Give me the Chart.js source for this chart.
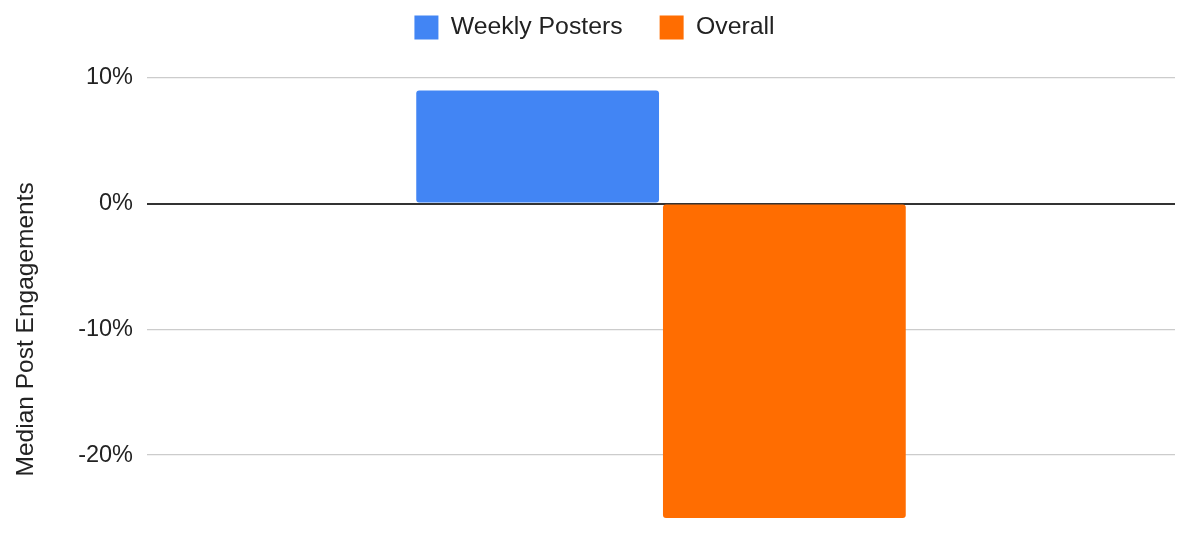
<!DOCTYPE html>
<html>
<head>
<meta charset="utf-8">
<script src="https://cdn.jsdelivr.net/npm/chart.js@4"></script>
<style>
  html, body { margin: 0; padding: 0; background: #fff; overflow: hidden; }
  /* the reference is a crop: the plot runs on below the window edge */
  #wrap { width: 1200px; height: 609px; }
</style>
</head>
<body>
<div id="wrap"><canvas id="myChart"></canvas></div>
<script>
// data
const categories = [''];
const weeklyPosters = [9];
const overall = [-25];
const seriesNames = ['Weekly Posters', 'Overall'];
const yTicks = [10, 0, -10, -20, -30];

Chart.defaults.font.family = "'Liberation Sans', Arial, sans-serif";
Chart.defaults.color = '#222';

// make room between the legend and the plot
const legendGap = {
    id: 'legendGap',
    beforeInit(chart) {
        const fit = chart.legend.fit;
        chart.legend.fit = function () {
            fit.bind(chart.legend)();
            this.height += 28;
        };
    }
};

const ctx = document.getElementById('myChart').getContext('2d');
const myChart = new Chart(ctx, {
    type: 'bar',
    data: {
        labels: categories,
        datasets: [{
            label: seriesNames[0],
            data: weeklyPosters,
            backgroundColor: '#4285F4',
            borderRadius: 3,
            borderSkipped: false
        }, {
            label: seriesNames[1],
            data: overall,
            backgroundColor: '#FF6D01',
            borderRadius: 3,
            borderSkipped: false
        }]
    },
    plugins: [legendGap],
    options: {
        responsive: true,
        maintainAspectRatio: false,
        animation: false,
        layout: { padding: { left: 14, right: 25, top: -22, bottom: 0 } },
        datasets: {
            bar: { categoryPercentage: 0.48, barPercentage: 0.984 }
        },
        plugins: {
            tooltip: { enabled: false },
            legend: {
                position: 'top',
                labels: {
                    boxWidth: 24,
                    boxHeight: 24,
                    padding: 37,
                    font: { size: 24.8 },
                    color: '#222'
                }
            }
        },
        scales: {
            x: { display: false },
            y: {
                min: -30,
                max: 10,
                afterBuildTicks: (axis) => {
                    axis.ticks = yTicks.map(v => ({ value: v }));
                },
                afterFit: (axis) => { axis.width = 133; },
                border: { display: false },
                grid: {
                    drawTicks: false,
                    color: (c) => c.tick && c.tick.value === 0 ? '#333' : '#ccc',
                    lineWidth: (c) => c.tick && c.tick.value === 0 ? 2 : 1.3
                },
                ticks: {
                    padding: 14,
                    font: { size: 23.5 },
                    color: '#222',
                    callback: (v) => v + '%'
                },
                title: {
                    display: true,
                    text: 'Median Post Engagements',
                    font: { size: 24.5, lineHeight: 1 },
                    color: '#222',
                    padding: { top: 0, bottom: 0 }
                }
            }
        }
    }
});
</script>
</body>
</html>
